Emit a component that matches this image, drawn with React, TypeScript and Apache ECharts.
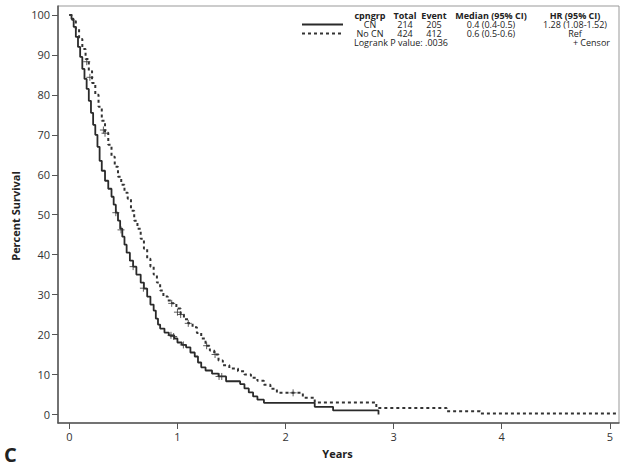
import React, { useEffect, useRef } from "react";
import * as echarts from "echarts";

// Kaplan-Meier step points [years, percent survival]
const cnCurve: number[][] = [
  [0, 100], [0.02, 99], [0.04, 97], [0.06, 94.5], [0.08, 92], [0.1, 89.5], [0.12, 86.5],
  [0.14, 84], [0.16, 81.5], [0.18, 78.5], [0.2, 75.5], [0.22, 72.5], [0.24, 70], [0.26, 67],
  [0.28, 63.5], [0.3, 61], [0.33, 58.5], [0.36, 56.5], [0.39, 54.5], [0.41, 52.5], [0.43, 50.5],
  [0.45, 48.5], [0.47, 46.5], [0.49, 44.5], [0.51, 42.5], [0.53, 40.5], [0.56, 38.5], [0.59, 37],
  [0.62, 35], [0.66, 33], [0.69, 31.5], [0.72, 29.5], [0.75, 27.5], [0.78, 26], [0.8, 24],
  [0.82, 22.5], [0.84, 21.5], [0.88, 20.5], [0.92, 19.8], [0.97, 19], [1.0, 18], [1.04, 17.4],
  [1.08, 16.8], [1.12, 15.5], [1.16, 14.5], [1.19, 13], [1.22, 11.8], [1.26, 11], [1.32, 10.2],
  [1.38, 9.5], [1.45, 8.3], [1.58, 7.6], [1.62, 6.5], [1.66, 5.5], [1.7, 4.5], [1.74, 3.7],
  [1.8, 2.9], [2.27, 1.9], [2.44, 1.0], [2.86, 0],
];

const noCnCurve: number[][] = [
  [0, 100], [0.03, 98.5], [0.06, 96.5], [0.09, 94], [0.12, 91.5], [0.15, 89], [0.18, 86],
  [0.21, 83], [0.24, 80], [0.27, 77], [0.3, 73.5], [0.33, 70.5], [0.36, 67.5], [0.39, 64.5],
  [0.42, 62], [0.45, 59.5], [0.48, 57.5], [0.51, 55.5], [0.54, 54], [0.57, 51], [0.6, 48.5],
  [0.63, 46.5], [0.66, 44], [0.69, 41.5], [0.72, 39], [0.75, 37], [0.78, 35], [0.81, 33],
  [0.84, 31], [0.87, 29.5], [0.91, 28.5], [0.95, 27.8], [0.99, 26.5], [1.03, 25], [1.06, 23.8],
  [1.1, 22.8], [1.14, 21.8], [1.18, 20.4], [1.22, 19], [1.26, 17.2], [1.3, 16], [1.34, 15],
  [1.38, 13.5], [1.42, 12.3], [1.48, 11.5], [1.56, 10.8], [1.62, 10], [1.68, 9.2], [1.74, 8.4],
  [1.8, 7.4], [1.86, 6.4], [1.92, 5.4], [2.16, 4.2], [2.27, 3.0], [2.84, 1.6], [3.49, 0.8],
  [3.8, 0.25], [5.08, 0.25],
];

const cnCensor: number[][] = [
  [0.43, 50.5], [0.478, 46.2], [0.59, 37], [0.685, 31.6], [0.94, 19.8], [0.965, 19.5],
  [1.055, 17.4], [1.385, 9.5], [1.41, 9.5],
];

const noCnCensor: number[][] = [
  [0.161, 88.3], [0.19, 84.4], [0.315, 71.2], [0.33, 70.4], [0.947, 27.8], [1.0, 25.6],
  [1.03, 25], [1.1, 22.8], [1.27, 17.2], [1.348, 15], [2.07, 5.4],
];

const xTicks = [0, 1, 2, 3, 4, 5];
const yTicks = [0, 10, 20, 30, 40, 50, 60, 70, 80, 90, 100];

const legendHeader = ["cpngrp", "Total", "Event", "Median (95% CI)", "HR (95% CI)"];
const legendRowCN = ["CN", "214", "205", "0.4 (0.4-0.5)", "1.28 (1.08-1.52)"];
const legendRowNoCN = ["No CN", "424", "412", "0.6 (0.5-0.6)", "Ref"];
const logrankText = "Logrank P value: .0036";
const censorText = "+ Censor";

const FONT = "'Open Sans', 'Noto Sans', sans-serif";
const INK = "#222";

export default function App() {
  const ref = useRef<HTMLDivElement>(null);
  useEffect(() => {
    if (!ref.current) return;
    const chart = echarts.init(ref.current, undefined, { renderer: "svg" });
    const colX = [370, 405, 434, 491, 575];
    const rowY = [15.5, 24.5, 33.5];
    const texts: any[] = [];
    [legendHeader, legendRowCN, legendRowNoCN].forEach((row, ri) => {
      row.forEach((t, ci) => {
        texts.push({
          type: "text",
          x: colX[ci],
          y: rowY[ri],
          style: {
            text: t,
            fill: INK,
            font: `${ri === 0 ? "bold " : ""}9px ${FONT}`,
            lineHeight: 9,
            align: "center",
            verticalAlign: "middle",
          },
        });
      });
    });
    const crossPath = "path://M5,0L5,10M0,5L10,5";
    chart.setOption({
      animation: false,
      grid: {
        left: 58,
        top: 6,
        right: 9,
        bottom: 44,
        show: true,
        borderColor: "#999",
        borderWidth: 1,
      },
      xAxis: {
        type: "value",
        min: -0.105,
        max: 5.085,
        axisLine: { show: true, onZero: false, lineStyle: { color: "#555", width: 1.5 } },
        axisTick: { show: true, customValues: xTicks, length: 6, lineStyle: { color: "#555" } },
        axisLabel: {
          customValues: xTicks,
          margin: 8,
          color: "#333",
          fontSize: 11,
          fontFamily: FONT,
        },
        splitLine: { show: false },
      },
      yAxis: {
        type: "value",
        min: -2.15,
        max: 102.25,
        axisLine: { show: true, onZero: false, lineStyle: { color: "#555", width: 1.5 } },
        axisTick: { show: true, customValues: yTicks, length: 6, lineStyle: { color: "#555" } },
        axisLabel: {
          customValues: yTicks,
          margin: 8,
          color: "#333",
          fontSize: 11,
          fontFamily: FONT,
        },
        splitLine: { show: false },
      },
      series: [
        {
          name: "CN",
          type: "line",
          step: "end",
          showSymbol: false,
          data: cnCurve,
          lineStyle: { color: "#2a2a2a", width: 1.8 },
          z: 3,
        },
        {
          name: "No CN",
          type: "line",
          step: "end",
          showSymbol: false,
          data: noCnCurve,
          lineStyle: { color: "#333", width: 2, type: [3, 3] },
          z: 3,
        },
        {
          name: "CN censor",
          type: "scatter",
          data: cnCensor,
          symbol: crossPath,
          symbolSize: 7,
          itemStyle: { color: "none", borderColor: "#333", borderWidth: 1 },
          z: 4,
        },
        {
          name: "No CN censor",
          type: "scatter",
          data: noCnCensor,
          symbol: crossPath,
          symbolSize: 7,
          itemStyle: { color: "none", borderColor: "#333", borderWidth: 1 },
          z: 4,
        },
      ],
      graphic: [
        ...texts,
        {
          type: "line",
          shape: { x1: 302, y1: 24.5, x2: 343, y2: 24.5 },
          style: { stroke: "#2a2a2a", lineWidth: 1.8 },
        },
        {
          type: "line",
          shape: { x1: 302, y1: 33.5, x2: 343, y2: 33.5 },
          style: { stroke: "#333", lineWidth: 2, lineDash: [3, 3] },
        },
        {
          type: "text",
          x: 354,
          y: 42.5,
          style: { text: logrankText, fill: INK, font: `9px ${FONT}`, lineHeight: 9, align: "left", verticalAlign: "middle" },
        },
        {
          type: "text",
          x: 610,
          y: 42.5,
          style: { text: censorText, fill: INK, font: `9px ${FONT}`, lineHeight: 9, align: "right", verticalAlign: "middle" },
        },
        {
          type: "text",
          x: 337.5,
          y: 453,
          style: { text: "Years", fill: INK, font: `bold 11px ${FONT}`, align: "center", verticalAlign: "middle" },
        },
        {
          type: "text",
          x: 15,
          y: 216,
          rotation: Math.PI / 2,
          style: {
            text: "Percent Survival",
            fill: INK,
            font: `bold 11px ${FONT}`,
            align: "center",
            verticalAlign: "middle",
          },
        },
        {
          type: "text",
          x: 4,
          y: 454,
          style: { text: "C", fill: INK, font: `bold 20px ${FONT}`, lineHeight: 20, align: "left", verticalAlign: "middle" },
        },
      ],
    });
    return () => chart.dispose();
  }, []);
  return <div ref={ref} style={{ width: 628, height: 467, position: "absolute", left: 0, top: 0 }} />;
}
